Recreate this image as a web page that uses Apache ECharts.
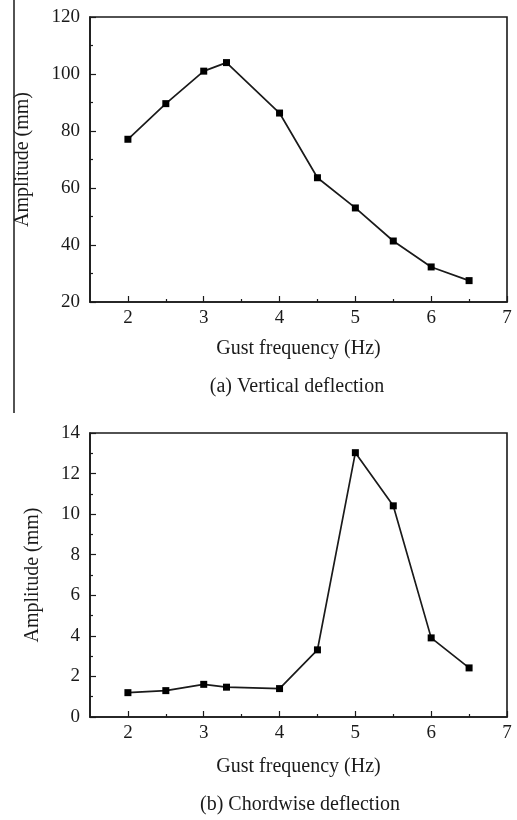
<!DOCTYPE html>
<html>
<head>
<meta charset="utf-8">
<script src="https://cdn.jsdelivr.net/npm/echarts@6/dist/echarts.min.js"></script>
<style>html,body{margin:0;padding:0;background:#fff;}#c{width:517px;height:820px;}</style>
</head>
<body>
<div id="c"></div>
<script>
var frequency = [2, 2.5, 3, 3.3, 4, 4.5, 5, 5.5, 6, 6.5];
var verticalAmp = [77.1, 89.6, 101.0, 104.0, 86.3, 63.6, 53.0, 41.4, 32.3, 27.5];
var chordwiseAmp = [1.2, 1.3, 1.61, 1.47, 1.4, 3.31, 13.03, 10.41, 3.9, 2.42];
var xMajorTicks = [2, 3, 4, 5, 6, 7];
var xMinorTicks = [2.5, 3.5, 4.5, 5.5, 6.5];
var xAxisTitle = 'Gust frequency (Hz)';
var yAxisTitle = 'Amplitude (mm)';
var captionA = '(a) Vertical deflection';
var captionB = '(b) Chordwise deflection';

var FONT = '"Liberation Serif", "DejaVu Serif", serif';
var INK = '#1a1a1a';

function pairs(xs, ys) { return xs.map(function (x, i) { return [x, ys[i]]; }); }

function mainX(gi, gap) {
  return {
    type: 'value', gridIndex: gi, min: 1.5, max: 7,
    axisLine: { show: true, onZero: false, lineStyle: { color: INK, width: 1.6 } },
    axisTick: { show: true, inside: true, length: 6, customValues: xMajorTicks, lineStyle: { color: INK, width: 1.2 } },
    axisLabel: { show: true, customValues: xMajorTicks, margin: 7, fontFamily: FONT, fontSize: 19, color: INK },
    splitLine: { show: false },
    name: xAxisTitle, nameLocation: 'middle', nameGap: gap,
    nameTextStyle: { fontFamily: FONT, fontSize: 20, color: INK }
  };
}
function minorX(gi) {
  return {
    type: 'value', gridIndex: gi, min: 1.5, max: 7, position: 'bottom',
    axisLine: { show: false },
    axisTick: { show: true, inside: true, length: 3, customValues: xMinorTicks, lineStyle: { color: INK, width: 1.2 } },
    axisLabel: { show: false },
    splitLine: { show: false }
  };
}
function mainY(gi, min, max, interval, gap) {
  return {
    type: 'value', gridIndex: gi, min: min, max: max, interval: interval,
    axisLine: { show: true, onZero: false, lineStyle: { color: INK, width: 1.6 } },
    axisTick: { show: true, inside: true, length: 6, lineStyle: { color: INK, width: 1.2 } },
    minorTick: { show: true, splitNumber: 2, length: 3, lineStyle: { color: INK, width: 1.2 } },
    axisLabel: { margin: 10, fontFamily: FONT, fontSize: 19, color: INK },
    splitLine: { show: false },
    name: yAxisTitle, nameLocation: 'middle', nameGap: gap,
    nameTextStyle: { fontFamily: FONT, fontSize: 20, color: INK }
  };
}
function lineSeries(xi, yi, data) {
  return {
    type: 'line', xAxisIndex: xi, yAxisIndex: yi, data: data,
    symbol: 'rect', symbolSize: 7, showSymbol: true,
    lineStyle: { color: INK, width: 1.7 },
    itemStyle: { color: '#000' },
    animation: false, silent: true
  };
}

var chart = echarts.init(document.getElementById('c'), null, { renderer: 'canvas' });
chart.setOption({
  backgroundColor: '#fff',
  animation: false,
  grid: [
    { left: 90, top: 17, width: 417, height: 285, show: true, borderColor: INK, borderWidth: 1.6, backgroundColor: 'transparent' },
    { left: 90, top: 433, width: 417, height: 284, show: true, borderColor: INK, borderWidth: 1.6, backgroundColor: 'transparent' }
  ],
  xAxis: [mainX(0, 37), minorX(0), mainX(1, 40), minorX(1)],
  yAxis: [mainY(0, 20, 120, 20, 57), mainY(1, 0, 14, 2, 47)],
  series: [
    lineSeries(0, 0, pairs(frequency, verticalAmp)),
    lineSeries(2, 1, pairs(frequency, chordwiseAmp))
  ],
  graphic: [
    { type: 'line', shape: { x1: 14, y1: 0, x2: 14, y2: 413 }, style: { stroke: INK, lineWidth: 1.5 } },
    { type: 'text', x: 297, y: 387, style: { text: captionA, font: '20px ' + FONT, fill: INK, textAlign: 'center', textVerticalAlign: 'middle' } },
    { type: 'text', x: 300, y: 805, style: { text: captionB, font: '20px ' + FONT, fill: INK, textAlign: 'center', textVerticalAlign: 'middle' } }
  ]
});
</script>
</body>
</html>
